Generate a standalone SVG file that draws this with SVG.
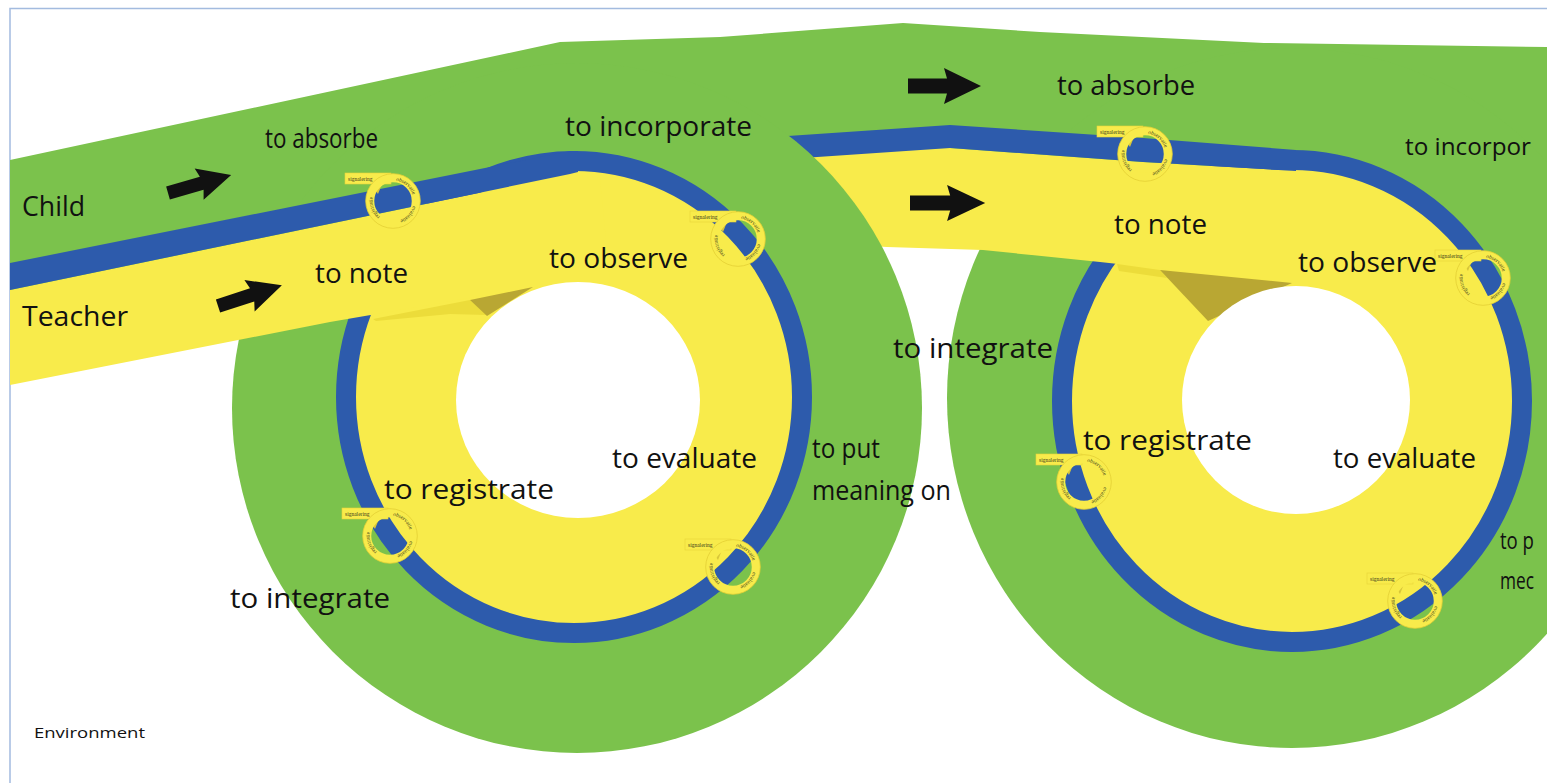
<svg xmlns="http://www.w3.org/2000/svg" width="1547" height="783" viewBox="0 0 1547 783">
<style>
.g{fill:#7bc24c}
.y{fill:#f8eb4b}
.b{fill:#2d5bac}
.ring{fill:#f8eb4b;stroke:#2d5bac;stroke-width:20}
.hole{fill:#ffffff}
.olive{fill:#b9a733}
.sliver{fill:#ecdc3a}
.lbl{font-family:"Open Sans",sans-serif;font-size:28px;fill:#111}
.edge{font-family:"Open Sans",sans-serif;font-size:24px;fill:#111}
.env{font-family:"Open Sans",sans-serif;font-size:15px;fill:#111}
.tiny{font-family:"Liberation Serif",serif;font-size:5.5px;fill:#3a3a1a}
.arrow{fill:#111}
</style>
<defs>
<path id="arr" d="M0,-7.5 L39,-7.5 L36,-18 L73,0 L36,18 L39,7.5 L0,7.5 Z"/>
<path id="tagpath" d="M0,-20.5 A20.5,20.5 0 1,1 0,20.5 A20.5,20.5 0 1,1 0,-20.5"/>
<g id="tag">
<rect x="-48" y="-28" width="46" height="11" fill="#f8eb4b" stroke="#e6d43a" stroke-width="0.6"/>
<polygon points="-22,-17 -11,-17 -15,-7" fill="#d8c63a"/>
<circle r="23" fill="none" stroke="#f8eb4b" stroke-width="8.5"/>
<circle r="27.3" fill="none" stroke="#e3cf35" stroke-width="0.8"/>
<text x="-45" y="-20.5" class="tiny">signalering</text>
<text class="tiny"><textPath href="#tagpath" startOffset="3">observatie</textPath></text>
<text class="tiny"><textPath href="#tagpath" startOffset="37">evaluatie</textPath></text>
<text class="tiny"><textPath href="#tagpath" startOffset="78">registratie</textPath></text>
</g>
</defs>
<rect width="1547" height="783" fill="#ffffff"/>
<path d="M10,783 V8.5 H1547" fill="none" stroke="#a3bbdf" stroke-width="1.5"/>

<g id="environment">
<polygon class="g" points="10,160 560,42 720,37 903,23 1040,32 1264,43 1547,47 1547,260 900,232 600,250 10,300"/>
<ellipse class="g" cx="1292" cy="398" rx="345" ry="350"/>
</g>

<g id="loop2">
<ellipse class="ring" cx="1292" cy="401" rx="230" ry="241"/>
<polygon class="y" points="760,150 950,148 1143,162 1296,171 1296,284 1290,283 1100,262 983,250 887,247 760,240"/>
<polygon class="b" points="760,138 950,125 1143,138 1296,150 1296,171 1143,162 950,148 760,161"/>
<polygon class="sliver" points="1117,264 1160,270 1167,278 1119,271"/>
<polygon class="olive" points="1160,270 1292,283 1208,321"/>
<ellipse class="hole" cx="1296" cy="400" rx="114" ry="114"/>
</g>

<g id="loop1">
<circle class="g" cx="577" cy="408" r="345"/>
<ellipse class="ring" cx="574" cy="397" rx="228" ry="236"/>
<polygon class="y" points="10,290 570,174 600,178 610,282 533,287 330,322 10,385"/>
<polygon class="b" points="10,263 570,151 578,151 578,172 570,174 10,290"/>
<polygon class="sliver" points="373,319 470,300 487,315 450,314 376,321"/>
<polygon class="olive" points="470,300 533,287 487,316"/>
<ellipse class="hole" cx="578" cy="400" rx="122" ry="118"/>
</g>

<g id="tags">
<use id="tag-band1" href="#tag" x="393" y="201"/>
<use id="tag-ring1-tr" href="#tag" x="738" y="239"/>
<use id="tag-ring1-bl" href="#tag" x="390" y="536"/>
<use id="tag-ring1-br" href="#tag" x="733" y="567"/>
<use id="tag-band2" href="#tag" x="1145" y="154"/>
<use id="tag-ring2-tr" href="#tag" x="1483" y="278"/>
<use id="tag-ring2-bl" href="#tag" x="1084" y="482"/>
<use id="tag-ring2-br" href="#tag" x="1415" y="601"/>
</g>

<g id="connectors">
<use class="arrow" href="#arr" transform="translate(168,193) rotate(-16) scale(0.9)"/>
<use class="arrow" href="#arr" transform="translate(218,306) rotate(-18) scale(0.92)"/>
<use class="arrow" href="#arr" transform="translate(908,86)"/>
<use class="arrow" href="#arr" transform="translate(910,203) scale(1.03,1)"/>
</g>

<g id="labels">
<text class="lbl" x="22" y="216" textLength="63" lengthAdjust="spacingAndGlyphs">Child</text>
<text class="lbl" x="22" y="326" textLength="106" lengthAdjust="spacingAndGlyphs">Teacher</text>
<text class="lbl" x="265" y="148" textLength="113" lengthAdjust="spacingAndGlyphs">to absorbe</text>
<text class="lbl" x="565" y="136" textLength="187" lengthAdjust="spacingAndGlyphs">to incorporate</text>
<text class="lbl" x="315" y="283" textLength="93" lengthAdjust="spacingAndGlyphs">to note</text>
<text class="lbl" x="549" y="268" textLength="139" lengthAdjust="spacingAndGlyphs">to observe</text>
<text class="lbl" x="612" y="468" textLength="145" lengthAdjust="spacingAndGlyphs">to evaluate</text>
<text class="lbl" x="812" y="458" textLength="68" lengthAdjust="spacingAndGlyphs">to put</text>
<text class="lbl" x="812" y="500" textLength="139" lengthAdjust="spacingAndGlyphs">meaning on</text>
<text class="lbl" x="384" y="499" textLength="170" lengthAdjust="spacingAndGlyphs">to registrate</text>
<text class="lbl" x="230" y="608" textLength="160" lengthAdjust="spacingAndGlyphs">to integrate</text>
<text class="env" x="34" y="738" textLength="111" lengthAdjust="spacingAndGlyphs">Environment</text>
<text class="lbl" x="1057" y="95" textLength="138" lengthAdjust="spacingAndGlyphs">to absorbe</text>
<text class="edge" x="1405" y="155" textLength="126" lengthAdjust="spacingAndGlyphs">to incorpor</text>
<text class="lbl" x="1114" y="234" textLength="93" lengthAdjust="spacingAndGlyphs">to note</text>
<text class="lbl" x="1298" y="272" textLength="139" lengthAdjust="spacingAndGlyphs">to observe</text>
<text class="lbl" x="893" y="358" textLength="160" lengthAdjust="spacingAndGlyphs">to integrate</text>
<text class="lbl" x="1083" y="450" textLength="169" lengthAdjust="spacingAndGlyphs">to registrate</text>
<text class="lbl" x="1333" y="468" textLength="143" lengthAdjust="spacingAndGlyphs">to evaluate</text>
<text class="edge" x="1500" y="549" textLength="34" lengthAdjust="spacingAndGlyphs">to p</text>
<text class="edge" x="1500" y="589" textLength="34" lengthAdjust="spacingAndGlyphs">mec</text>
</g>
</svg>
